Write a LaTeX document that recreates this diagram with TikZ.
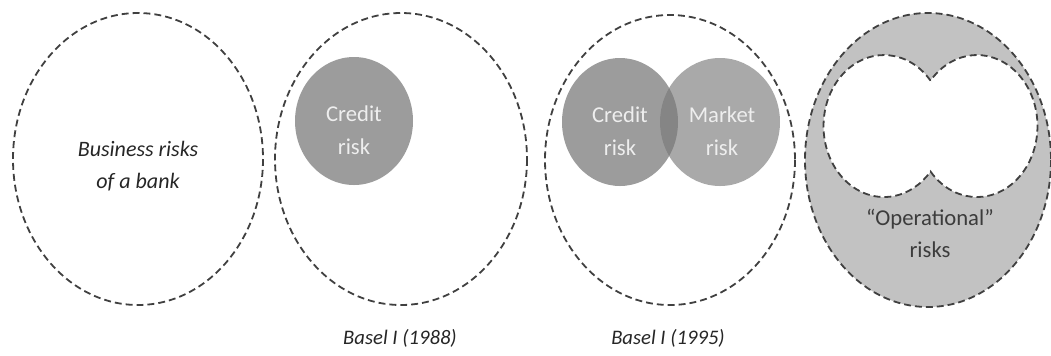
\documentclass[tikz,border=0pt]{standalone}
\usepackage{fontspec}
\setmainfont{Carlito}
\definecolor{dashc}{HTML}{404040}
\definecolor{creditc}{HTML}{9C9C9C}
\definecolor{marketc}{HTML}{A9A9A9}
\definecolor{overlapc}{HTML}{858585}
\definecolor{opfill}{HTML}{C2C2C2}
\definecolor{intext}{HTML}{EEEEEE}
\definecolor{labtext}{HTML}{262626}
\tikzset{
  dashline/.style={draw=dashc, line width=1.35pt, dash pattern=on 5.2pt off 3pt},
  bigtext/.style={font=\fontsize{16.5}{24}\selectfont\itshape, text=labtext, align=center, inner sep=0pt},
  intxt/.style={font=\fontsize{17}{25}\selectfont, text=intext, align=center, inner sep=0pt},
  optxt/.style={font=\fontsize{17}{24}\selectfont, text=labtext!90, align=center, inner sep=0pt},
  captxt/.style={font=\fontsize{15.5}{18}\selectfont\itshape, text=labtext, inner sep=0pt}
}
\begin{document}
\begin{tikzpicture}[x=0.75pt, y=-0.75pt]
\useasboundingbox (0,0) rectangle (1051,355);
% panel 1
\draw[dashline] (138,159) ellipse [x radius=125, y radius=146];
\node[bigtext] (biz) at (138,166) {Business risks\\of a bank};
% panel 2
\draw[dashline] (401,159) ellipse [x radius=126, y radius=146];
\fill[creditc] (354,121) ellipse [x radius=59, y radius=64];
\node[intxt] (cr1) at (354,130) {Credit\\risk};
\node[captxt] (b88) at (400,338) {Basel I (1988)};
% panel 3
\draw[dashline] (670,160) ellipse [x radius=125, y radius=145];
\fill[creditc] (620,122) ellipse [x radius=58, y radius=64];
\fill[marketc] (720,122) ellipse [x radius=60, y radius=64];
\begin{scope}
  \clip (620,122) ellipse [x radius=58, y radius=64];
  \fill[overlapc] (720,122) ellipse [x radius=60, y radius=64];
\end{scope}
\node[intxt] (cr2) at (620,131) {Credit\\risk};
\node[intxt] (mk) at (722,131) {Market\\risk};
\node[captxt] (b95) at (668,338) {Basel I (1995)};
% panel 4
\filldraw[fill=opfill, dashline] (928,160) ellipse [x radius=123, y radius=147];
\filldraw[fill=white, dashline] (930.5,80.6)
  arc[start angle=-39.8, end angle=-320.2, x radius=60.5, y radius=71]
  arc[start angle=140.2, end angle=-140.2, x radius=60.5, y radius=71] -- cycle;
\node[optxt] (op) at (930,233) {``Operational''\\risks};
\end{tikzpicture}
\end{document}
